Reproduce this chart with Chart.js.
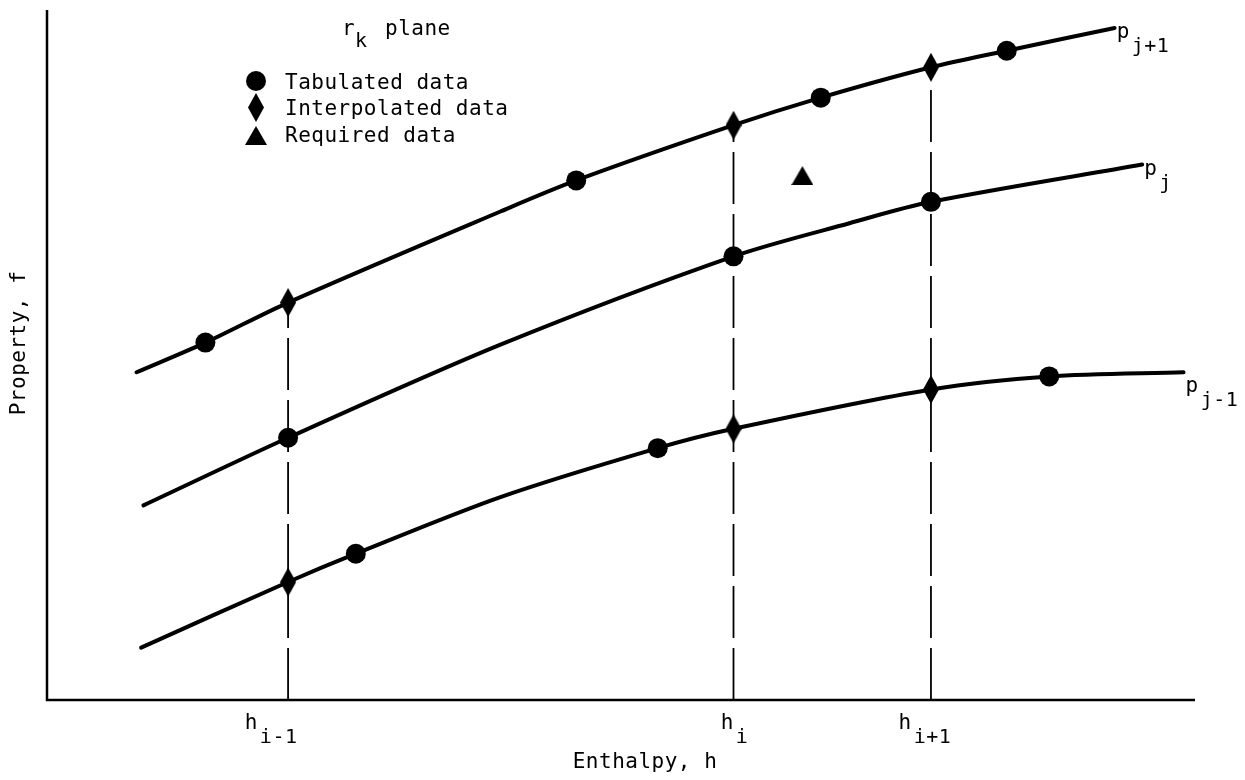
<!DOCTYPE html>
<html>
<head>
<meta charset="utf-8">
<script src="https://cdn.jsdelivr.net/npm/chart.js@4"></script>
<style>
  html, body { margin: 0; padding: 0; background: #fff; }
  canvas { display: block; }
</style>
</head>
<body>
<canvas id="chart" width="1245" height="780"></canvas>
<script>
// enthalpy positions of the three grid lines h(i-1), h(i), h(i+1)
const hValues = [21.0, 59.8, 77.0];
const hNames = [["h", "i-1"], ["h", "i"], ["h", "i+1"]];

// isobars p(j+1), p(j), p(j-1) : [h, f]
const curveUpper = [[7.8, 47.5], [13.8, 51.8], [21.0, 57.6], [39.5, 70.8], [46.1, 75.3], [59.8, 83.3], [67.4, 87.3], [77.0, 91.7], [83.6, 94.1], [93.0, 97.4]];
const curveMid = [[8.4, 28.2], [21.0, 38.0], [39.5, 51.5], [59.8, 64.3], [69.9, 69.1], [77.0, 72.2], [95.4, 77.6]];
const curveLower = [[8.2, 7.6], [21.0, 17.1], [26.9, 21.2], [39.5, 29.4], [53.2, 36.5], [59.8, 39.3], [77.0, 45.0], [87.3, 46.9], [99.0, 47.5]];
const curveNames = [["p", "j+1"], ["p", "j"], ["p", "j-1"]];

const tabulated = [[13.8, 51.8], [46.1, 75.3], [67.4, 87.3], [83.6, 94.1], [21.0, 38.0], [59.8, 64.3], [77.0, 72.2], [26.9, 21.2], [53.2, 36.5], [87.3, 46.9]];
const interpolated = [[21.0, 57.6], [59.8, 83.3], [77.0, 91.7], [21.0, 17.1], [59.8, 39.3], [77.0, 45.0]];
const required = [[65.8, 76.0]];

// top of each dashed line = f of p(j+1) at that h
const dashTops = [57.6, 83.3, 91.7];

const toPts = arr => arr.map(([x, y]) => ({ x, y }));
const FONT = "'DejaVu Sans Mono', monospace";
const BASE = "21px " + FONT;
const SUB = "20px " + FONT;

function makeDiamond() {
  const c = document.createElement("canvas");
  c.width = 16; c.height = 29;
  const g = c.getContext("2d");
  g.fillStyle = "#000";
  g.beginPath();
  g.moveTo(8, 0); g.lineTo(16, 14.5); g.lineTo(8, 29); g.lineTo(0, 14.5);
  g.closePath(); g.fill();
  return c;
}
function makeTriangle() {
  const c = document.createElement("canvas");
  c.width = 22; c.height = 19;
  const g = c.getContext("2d");
  g.fillStyle = "#000";
  g.beginPath();
  g.moveTo(11, 0); g.lineTo(22, 19); g.lineTo(0, 19);
  g.closePath(); g.fill();
  return c;
}
const diamondImg = makeDiamond();
const triangleImg = makeTriangle();

function drawSub(ctx, base, sub, x, y, align) {
  ctx.font = BASE;
  const wb = ctx.measureText(base).width;
  ctx.font = SUB;
  const ws = ctx.measureText(sub).width;
  let x0 = x;
  if (align === "center") x0 = x - (wb + 2 + ws) / 2;
  ctx.textAlign = "left";
  ctx.font = BASE;
  ctx.fillText(base, x0, y);
  ctx.font = SUB;
  ctx.fillText(sub, x0 + wb + 2, y + 14);
}

const decor = {
  id: "decor",
  afterDraw(chart) {
    const { ctx, chartArea: a, scales: { x, y } } = chart;
    ctx.save();
    ctx.strokeStyle = "#000";
    ctx.fillStyle = "#000";
    ctx.lineWidth = 2.5;
    ctx.beginPath();
    ctx.moveTo(a.left, a.top);
    ctx.lineTo(a.left, a.bottom);
    ctx.lineTo(a.right, a.bottom);
    ctx.stroke();

    ctx.letterSpacing = "0.5px";
    ctx.textBaseline = "alphabetic";
    // tick labels
    const shifts = [-17, 1, -6];
    hValues.forEach((h, i) => {
      drawSub(ctx, hNames[i][0], hNames[i][1], x.getPixelForValue(h) + shifts[i], 729, "center");
    });
    // curve labels
    [curveUpper, curveMid, curveLower].forEach((c, i) => {
      const last = c[c.length - 1];
      const px = x.getPixelForValue(last[0]) + 2;
      const py = y.getPixelForValue(last[1]) + (i === 2 ? 20 : 10);
      drawSub(ctx, curveNames[i][0], curveNames[i][1], px, py, "left");
    });

    // axis titles
    ctx.font = BASE;
    ctx.textAlign = "center";
    ctx.fillText("Enthalpy, h", (a.left + a.right) / 2 + 24, 768);
    ctx.save();
    ctx.translate(25, 343);
    ctx.rotate(-Math.PI / 2);
    ctx.fillText("Property, f", 0, 0);
    ctx.restore();

    // legend
    ctx.textAlign = "left";
    ctx.font = BASE;
    ctx.fillText("r", 342, 35);
    ctx.font = SUB;
    ctx.fillText("k", 355, 47);
    ctx.font = BASE;
    ctx.fillText("plane", 385, 35);
    const rows = [["Tabulated data", 82], ["Interpolated data", 108], ["Required data", 135]];
    rows.forEach(([t, ry]) => ctx.fillText(t, 285, ry + 7));
    ctx.beginPath();
    ctx.arc(256, 81, 10, 0, Math.PI * 2);
    ctx.fill();
    ctx.drawImage(diamondImg, 248, 93, 16, 29);
    ctx.drawImage(triangleImg, 245, 126, 22, 19);
    ctx.restore();
  }
};

const curveStyle = { showLine: true, borderColor: "#000", borderWidth: 4, pointRadius: 0, tension: 0.3, fill: false, borderCapStyle: "round" };

const datasets = [
  { data: toPts(tabulated), pointStyle: "circle", pointRadius: 10, backgroundColor: "#000", borderColor: "#000", borderWidth: 0, order: 0 },
  { data: toPts(interpolated), pointStyle: diamondImg, order: 0 },
  { data: toPts(required), pointStyle: triangleImg, order: 0 },
  Object.assign({ data: toPts(curveUpper), order: 1 }, curveStyle),
  Object.assign({ data: toPts(curveMid), order: 1 }, curveStyle),
  Object.assign({ data: toPts(curveLower), order: 1 }, curveStyle),
];
hValues.forEach((h, i) => {
  datasets.push({ data: [{ x: h, y: 0 }, { x: h, y: dashTops[i] }], showLine: true, borderColor: "#000", borderWidth: 1.8, borderDash: [52, 10], pointRadius: 0, order: 2 });
});

new Chart(document.getElementById("chart"), {
  type: "scatter",
  data: { datasets },
  options: {
    responsive: false,
    animation: false,
    layout: { padding: { left: 47, top: 5, right: 50, bottom: 80 } },
    scales: {
      x: { type: "linear", display: false, min: 0, max: 100 },
      y: { type: "linear", display: false, min: 0, max: 100 }
    },
    plugins: { legend: { display: false }, tooltip: { enabled: false } },
    events: []
  },
  plugins: [decor]
});
</script>
</body>
</html>
